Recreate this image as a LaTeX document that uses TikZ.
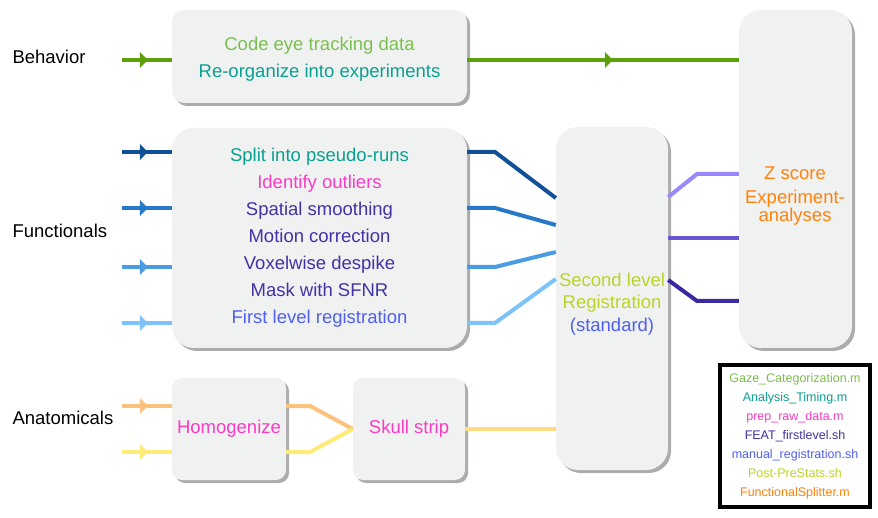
\documentclass[tikz,border=0pt]{standalone}
\usepackage{fontspec}
\setmainfont{Liberation Sans}
\usetikzlibrary{decorations.markings,shadows}

\definecolor{boxgray}{RGB}{240,242,242}
\definecolor{behgreen}{RGB}{92,160,10}
\definecolor{codegreen}{RGB}{125,190,80}
\definecolor{tealtxt}{RGB}{10,160,145}
\definecolor{pinktxt}{RGB}{250,60,195}
\definecolor{indigotxt}{RGB}{65,50,165}
\definecolor{bluetxt}{RGB}{80,95,240}
\definecolor{limetxt}{RGB}{190,210,40}
\definecolor{orangetxt}{RGB}{255,130,10}
\definecolor{funa}{RGB}{15,80,150}
\definecolor{funb}{RGB}{40,120,200}
\definecolor{func}{RGB}{75,155,225}
\definecolor{fund}{RGB}{125,195,250}
\definecolor{anaorange}{RGB}{250,195,125}
\definecolor{anayellow}{RGB}{255,235,120}
\definecolor{skullline}{RGB}{255,220,130}
\definecolor{zsa}{RGB}{155,135,250}
\definecolor{zsb}{RGB}{105,85,210}
\definecolor{zsc}{RGB}{60,40,160}

\begin{document}
\begin{tikzpicture}[x=1pt, y=-1pt,
  bigtext/.style={font=\fontsize{18.5}{27}\selectfont},
  stage/.style={fill=boxgray, inner sep=0pt, align=center, bigtext,
    drop shadow={shadow xshift=3pt, shadow yshift=-3pt, fill=black!65}},
  pipe/.style={line width=4pt},
  midarrow/.style={postaction={decorate, decoration={markings,
    mark=at position #1 with {\fill (-3.5pt,-8pt) -- (4.5pt,0pt) -- (-3.5pt,8pt) -- cycle;}}}},
  midarrow/.default=0.43]
\useasboundingbox (0,0) rectangle (878,518);

% row labels
\node [bigtext, anchor=west] (behlabel) at (9,57) {Behavior};
\node [bigtext, anchor=west] (funlabel) at (9,231) {Functionals};
\node [bigtext, anchor=west] (analabel) at (9,418) {Anatomicals};

% processing boxes
\node [stage, rounded corners=12pt, minimum width=295pt, minimum height=93pt] (beh) at (319.5,56.5) {};
\node [bigtext, align=center] (behtext) at (319.5,59)
  {\textcolor{codegreen}{Code eye tracking data}\\ \textcolor{tealtxt}{Re-organize into experiments}};
\node [stage, rounded corners=22pt, minimum width=295pt, minimum height=220pt] (fun) at (319.5,238)
  {\textcolor{tealtxt}{Split into pseudo-runs}\\
   \textcolor{pinktxt}{Identify outliers}\\
   \textcolor{indigotxt}{Spatial smoothing}\\
   \textcolor{indigotxt}{Motion correction}\\
   \textcolor{indigotxt}{Voxelwise despike}\\
   \textcolor{indigotxt}{Mask with SFNR}\\
   \textcolor{bluetxt}{First level registration}};
\node [stage, rounded corners=10pt, minimum width=114pt, minimum height=102pt] (hom) at (229,429)
  {\textcolor{pinktxt}{Homogenize}};
\node [stage, rounded corners=10pt, minimum width=112pt, minimum height=102pt] (skull) at (409,429)
  {\textcolor{pinktxt}{Skull strip}};
\node [stage, rounded corners=22pt, minimum width=112pt, minimum height=343pt] (slr) at (612,298.5) {};
\node [bigtext, align=center, font=\fontsize{18.5}{22.5}\selectfont] (slrtext) at (612,304)
  {\textcolor{limetxt}{Second level}\\ \textcolor{limetxt}{Registration}\\ \textcolor{bluetxt}{(standard)}};
\node [stage, rounded corners=22pt, minimum width=113pt, minimum height=338pt] (zs) at (795.5,179) {};
\node [bigtext, text=orangetxt] (zstext) at (795,173) {Z score};
\node [align=center, text=orangetxt, font=\fontsize{18.5}{17}\selectfont] (extext) at (795,208)
  {Experiment-\\analyses};

% legend of scripts
\node [draw, line width=4pt, fill=white, minimum width=150pt, minimum height=142pt, align=center,
  font=\fontsize{12.5}{19}\selectfont] (legend) at (795,436)
  {\textcolor{codegreen}{Gaze\_Categorization.m}\\
   \textcolor{tealtxt}{Analysis\_Timing.m}\\
   \textcolor{pinktxt}{prep\_raw\_data.m}\\
   \textcolor{indigotxt}{FEAT\_firstlevel.sh}\\
   \textcolor{bluetxt}{manual\_registration.sh}\\
   \textcolor{limetxt}{Post-PreStats.sh}\\
   \textcolor{orangetxt}{FunctionalSplitter.m}};

% behavior stream
\coordinate (behin) at (122,60);
\draw [pipe, behgreen, midarrow] (behin) -- (behin -| beh.west);
\draw [pipe, behgreen, midarrow=0.52] (behin -| beh.east) -- (behin -| zs.west);

% functional streams
\foreach \i/\yin/\yout/\col in {1/152/198/funa, 2/208/225/funb, 3/267/252/func, 4/323/279/fund} {
  \coordinate (fin\i) at (122,\yin);
  \coordinate (fbend\i) at (495,\yin);
  \coordinate (fout\i) at (0,\yout);
  \draw [pipe, \col, midarrow] (fin\i) -- (fin\i -| fun.west);
  \draw [pipe, \col] (fin\i -| fun.east) -- (fbend\i) -- (fout\i -| slr.west);
}

% anatomical streams
\foreach \i/\yin/\col in {1/406/anaorange, 2/452/anayellow} {
  \coordinate (ain\i) at (122,\yin);
  \coordinate (abend\i) at (310,\yin);
  \draw [pipe, \col, midarrow] (ain\i) -- (ain\i -| hom.west);
  \draw [pipe, \col] (ain\i -| hom.east) -- (abend\i) -- (skull.west);
}
\draw [pipe, skullline] (skull.east) -- (skull.east -| slr.west);

% second level to z score
\foreach \i/\yin/\yout/\col in {1/197/174/zsa, 2/238/238/zsb, 3/280/301/zsc} {
  \coordinate (zin\i) at (0,\yin);
  \coordinate (zbend\i) at (697,\yout);
  \draw [pipe, \col] (zin\i -| slr.east) -- (zbend\i) -- (zbend\i -| zs.west);
}
\end{tikzpicture}
\end{document}
